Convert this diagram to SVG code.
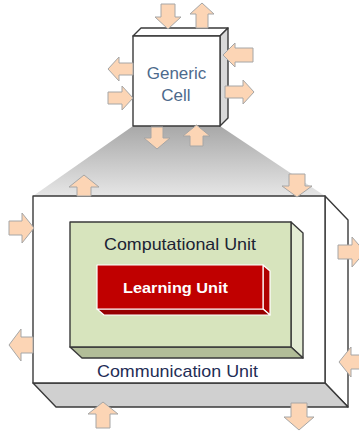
<svg xmlns="http://www.w3.org/2000/svg" width="359" height="431" viewBox="0 0 359 431">
<style>
.arr{fill:#fcd5b5;stroke:#a6a6a6;stroke-width:1;stroke-linejoin:miter}
.edge{stroke:#3a3a3a;stroke-width:1.4;stroke-linejoin:round}
.lu{stroke:#ffffff;stroke-width:1.2;stroke-linejoin:round}
text{font-family:"Liberation Sans",Arial,sans-serif}
</style>
<defs>
<linearGradient id="proj" x1="0" y1="0" x2="0" y2="1">
<stop offset="0" stop-color="#a8a8a8"/>
<stop offset="1" stop-color="#e6e6e6"/>
</linearGradient>
</defs>
<rect width="359" height="431" fill="#ffffff"/>
<g id="projection">
<polygon points="133,126 220,126 325,196 33,196" fill="url(#proj)"/>
</g>
<g id="communication-unit">
<polygon class="edge" points="325,196 348,220 348,407 325,383" fill="#ffffff"/>
<polygon class="edge" points="33,383 325,383 348,407 56,407" fill="#d0d0d0"/>
<rect class="edge" x="33" y="196" width="292" height="187" fill="#ffffff"/>
<text x="177.5" y="377" font-size="17" text-anchor="middle" textLength="161" lengthAdjust="spacingAndGlyphs" fill="#1f2d55">Communication Unit</text>
</g>
<g id="computational-unit">
<polygon class="edge" points="291,222 303,233 303,358 291,347" fill="#e4ecd4"/>
<polygon class="edge" points="70,347 291,347 303,358 82,358" fill="#b2bd98"/>
<rect class="edge" x="70" y="222" width="221" height="125" fill="#d7e4bd"/>
<text x="180" y="249.5" font-size="16.5" text-anchor="middle" textLength="152" lengthAdjust="spacingAndGlyphs" fill="#1c2333">Computational Unit</text>
</g>
<g id="learning-unit">
<polygon class="lu" points="263,265 270,271 270,315 263,309" fill="#b00000"/>
<polygon class="lu" points="97,309 263,309 270,315 104,315" fill="#960000"/>
<rect class="lu" x="97" y="265" width="166" height="44" fill="#c00000"/>
<text x="175.5" y="293" font-size="15.5" font-weight="bold" text-anchor="middle" textLength="105" lengthAdjust="spacingAndGlyphs" fill="#ffffff">Learning Unit</text>
</g>
<g id="generic-cell">
<polygon class="edge" points="133,36 141,28 228,28 220,36" fill="#ffffff"/>
<polygon class="edge" points="220,36 228,28 228,118 220,126" fill="#d9d9d9"/>
<rect class="edge" x="133" y="36" width="87" height="90" fill="#ffffff"/>
<text x="176.5" y="78.5" font-size="17" text-anchor="middle" fill="#4d6a8c">Generic</text>
<text x="176" y="101" font-size="17" text-anchor="middle" fill="#4d6a8c">Cell</text>
</g>
<g id="connectors">
<path class="arr" d="M161,4 H175 V17 H181 L168,29 L155,17 H161 Z"/>
<path class="arr" d="M196,28 V14 H190 L202,3 L214,14 H208 V28 Z"/>
<path class="arr" d="M133,63 H119 V57 L108,69 L119,81 V75 H133 Z"/>
<path class="arr" d="M108,92 H122 V86 L133,98 L122,110 V104 H108 Z"/>
<path class="arr" d="M253,48 H235 V43 L223,55 L235,67 V62 H253 Z"/>
<path class="arr" d="M225,86 H243 V80 L254,92 L243,104 V98 H225 Z"/>
<path class="arr" d="M151,127 H163 V138 H170 L157,149 L144,138 H151 Z"/>
<path class="arr" d="M190,146 V136 H183 L196.5,125 L210,136 H203 V146 Z"/>
<path class="arr" d="M77,196 V187 H69 L84,175 L99,187 H91 V196 Z"/>
<path class="arr" d="M289,174 H305 V186 H312 L297,197 L282,186 H289 Z"/>
<path class="arr" d="M9,221 H22 V213 L34,228 L22,243 V235 H9 Z"/>
<path class="arr" d="M33,337 H21 V329 L9,345 L21,361 V353 H33 Z"/>
<path class="arr" d="M338,245 H352 V237 L365,252 L352,267 V259 H338 Z"/>
<path class="arr" d="M362,355 H351 V347 L339,362 L351,377 V369 H362 Z"/>
<path class="arr" d="M96,428 V414 H88 L103,402 L118,414 H110 V428 Z"/>
<path class="arr" d="M291,403 H307 V417 H314 L299,430 L284,417 H291 Z"/>
</g>
</svg>
